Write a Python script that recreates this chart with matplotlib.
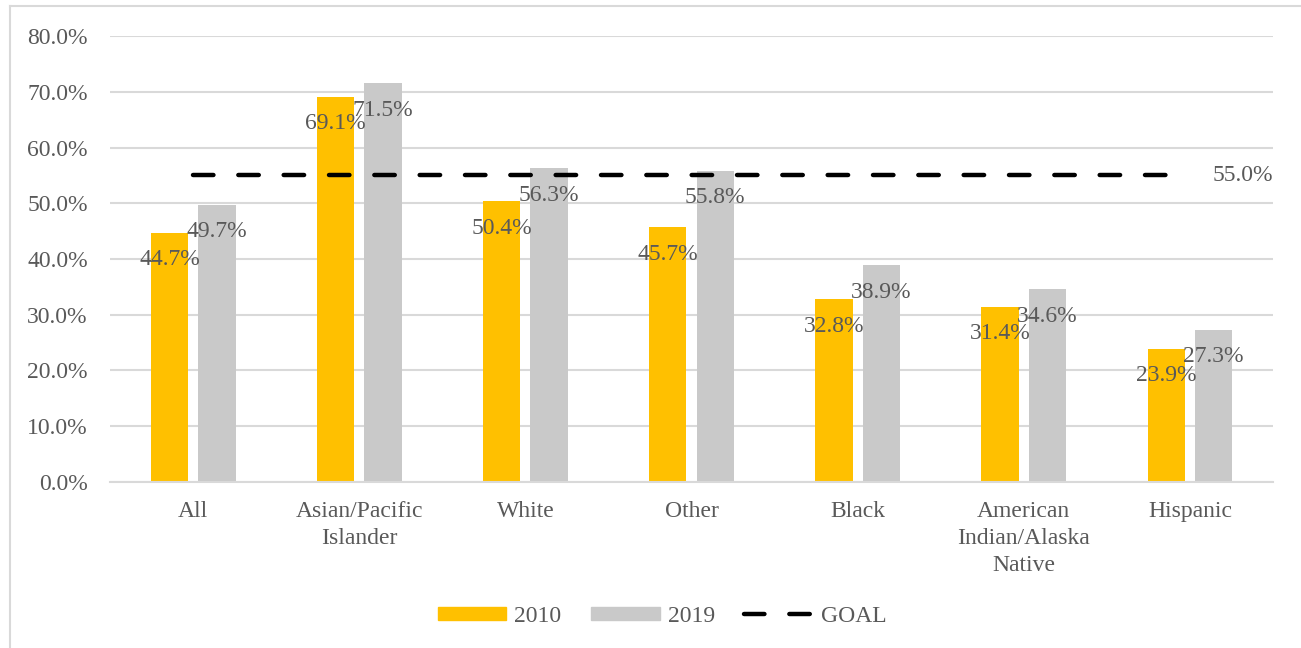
import numpy as np
import matplotlib.pyplot as plt
from matplotlib.lines import Line2D
from matplotlib.patches import Patch

plt.rcParams['font.family'] = ['Liberation Serif', 'DejaVu Serif']
plt.rcParams['font.size'] = 17

categories = ['All', 'Asian/Pacific\nIslander', 'White', 'Other', 'Black',
              'American\nIndian/Alaska\nNative', 'Hispanic']
vals_2010 = [44.7, 69.1, 50.4, 45.7, 32.8, 31.4, 23.9]
vals_2019 = [49.7, 71.5, 56.3, 55.8, 38.9, 34.6, 27.3]
goal = 55.0
yticks = [0, 10, 20, 30, 40, 50, 60, 70, 80]

c10 = '#FFC000'
c19 = '#C9C9C9'
txt = '#595959'
grid = '#D9D9D9'

fig = plt.figure(figsize=(13.01, 6.48), dpi=100)
ax = fig.add_axes([0.0846, 0.2562, 0.8939, 0.6882])

x = np.arange(len(categories))
w = 0.225
off = 0.143
ax.bar(x - off, vals_2010, w, color=c10, zorder=2)
ax.bar(x + off, vals_2019, w, color=c19, zorder=2)

for xs, vs in [(x - off, vals_2010), (x + off, vals_2019)]:
    for xi, v in zip(xs, vs):
        ax.annotate(f'{v:.1f}%', (xi, v), xytext=(0, -27), textcoords='offset pixels',
                    ha='center', va='center', color=txt, zorder=4)

ax.plot([0, len(categories) - 1], [goal, goal], color='black', lw=3.2,
        dashes=(4.6, 5.6), dash_capstyle='round', zorder=3)
ax.text(len(categories) - 0.5, goal, f'{goal:.1f}%', ha='right', va='center', color=txt)

ax.set_xlim(-0.5, len(categories) - 0.5)
ax.set_ylim(0, 80)
ax.set_yticks(yticks)
ax.set_yticklabels([f'{t:.1f}%' for t in yticks], color=txt)
ax.set_xticks(x)
ax.set_xticklabels(categories, color=txt, linespacing=1.35)
ax.tick_params(length=0, pad=14)
ax.tick_params(axis='y', pad=16)
ax.yaxis.grid(True, color=grid, lw=1.5, zorder=0)
for s in ['top', 'right', 'left']:
    ax.spines[s].set_visible(False)
ax.spines['bottom'].set_color(grid)
ax.spines['bottom'].set_linewidth(1.5)

handles = [Patch(color=c10), Patch(color=c19),
           Line2D([], [], color='black', lw=3.2, dashes=(4.6, 5.6), dash_capstyle='round')]
leg = fig.legend(handles, ['2010', '2019', 'GOAL'], loc='center', bbox_to_anchor=(0.509, 0.049),
                 ncol=3, frameon=False, handlelength=2.9, handleheight=0.45,
                 columnspacing=1.25, handletextpad=0.35)
for t in leg.get_texts():
    t.set_color(txt)

# chart border
fig.add_artist(Line2D([10 / 1301, 10 / 1301], [0, 1 - 6 / 648], transform=fig.transFigure,
                      color=grid, lw=1.5))
fig.add_artist(Line2D([10 / 1301, 1], [1 - 6 / 648, 1 - 6 / 648], transform=fig.transFigure,
                      color=grid, lw=1.5))

fig.savefig('out.png', dpi=100)
